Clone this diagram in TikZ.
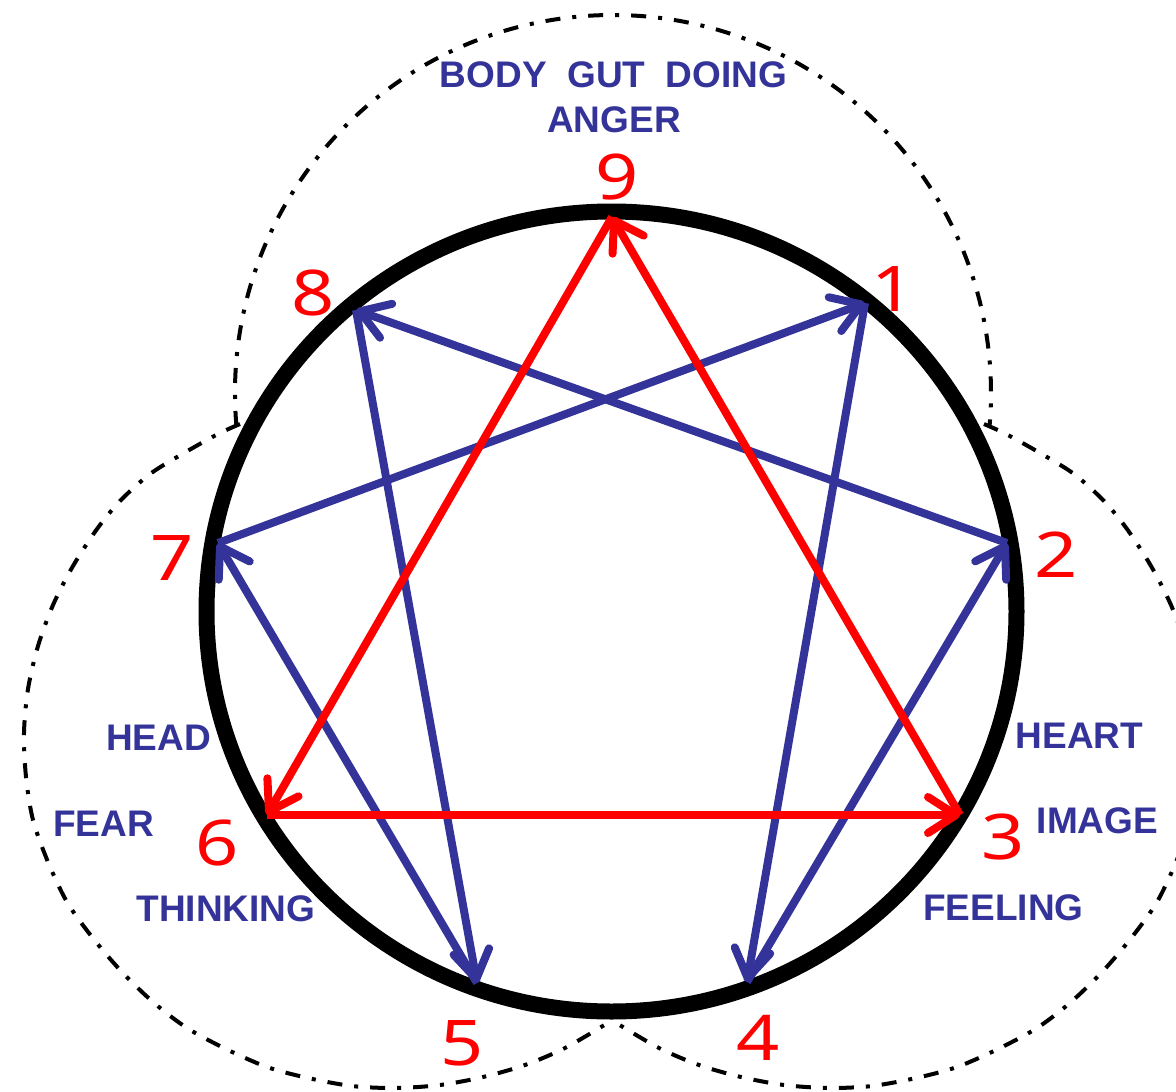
\documentclass[tikz,border=0pt]{standalone}
\usepackage{fontspec}
\setmainfont{Liberation Sans}
\newfontfamily\numfont{Noto Sans}
\usetikzlibrary{arrows.meta}
\definecolor{eblue}{HTML}{333399}
\definecolor{ered}{HTML}{FF0000}
\begin{document}
\begin{tikzpicture}[x=1pt,y=-1pt,
  lbl/.style={text=eblue, font=\fontsize{37pt}{44pt}\selectfont\bfseries, inner sep=0pt, anchor=center},
  num/.style={text=ered, font=\numfont\fontsize{63pt}{70pt}\selectfont, inner sep=0pt, anchor=center},
  lobe/.style={draw=black, line width=4pt, dash pattern=on 15pt off 12pt on 4pt off 12pt},
  conn/.style={line width=8pt, -{Straight Barb[length=28pt,width=36pt,round]}},
  bline/.style={conn, draw=eblue},
  rline/.style={conn, draw=ered}]
\path[use as bounding box] (0,0) rectangle (1176,1092);

% dash-dot lobes
\draw[lobe] (613,393) ++(175:378) arc[start angle=175, end angle=365, radius=378];
\draw[lobe] plot[smooth] coordinates {(240,424) (218,434) (184,453) (150,474) (120,501) (97,529) (73,566) (53,605) (38,646) (28,689) (24,733) (26,777) (33,820) (48,862) (67,902) (92,937) (121,971) (153,1002) (187,1028) (226,1049) (267,1067) (308,1078) (352,1086) (395,1088) (440,1085) (483,1077) (525,1065) (565,1048) (606,1024)};
\begin{scope}[shift={(1224,0)}, xscale=-1]
\draw[lobe] plot[smooth] coordinates {(240,424) (218,434) (184,453) (150,474) (120,501) (97,529) (73,566) (53,605) (38,646) (28,689) (24,733) (26,777) (33,820) (48,862) (67,902) (92,937) (121,971) (153,1002) (187,1028) (226,1049) (267,1067) (308,1078) (352,1086) (395,1088) (440,1085) (483,1077) (525,1065) (565,1048) (606,1024)};
\end{scope}

% main circle
\draw[line width=16pt] (611.5,611.5) ellipse [x radius=405, y radius=400];

% points
\coordinate (p9) at (612,217);
\coordinate (p1) at (865,303);
\coordinate (p2) at (1007,543);
\coordinate (p3) at (960,815);
\coordinate (p4) at (747,982);
\coordinate (p5) at (477,983);
\coordinate (p6) at (267,815);
\coordinate (p7) at (218,543);
\coordinate (p8) at (356,310);

% blue connectors
\draw[bline] (p1) -- (p4);
\draw[bline] (p4) -- (p2);
\draw[bline] (p2) -- (p8);
\draw[bline] (p8) -- (p5);
\draw[bline] (p5) -- (p7);
\draw[bline] (p7) -- (p1);
% red connectors
\draw[rline] (p9) -- (p6);
\draw[rline] (p6) -- (p3);
\draw[rline] (p3) -- (p9);

% numbers
\node[num] (n9) at (617.5,177) {\scalebox{1.2}[1]{9}};
\node[num] (n1) at (893.5,289.5) {\scalebox{1.2}[1]{1}};
\node[num] (n2) at (1056.5,555) {\scalebox{1.2}[1]{2}};
\node[num] (n3) at (1003.5,837.5) {\scalebox{1.2}[1]{3}};
\node[num] (n4) at (758.5,1037.5) {\scalebox{1.2}[1]{4}};
\node[num] (n5) at (462.5,1043.5) {\scalebox{1.2}[1]{5}};
\node[num] (n6) at (217.5,842.5) {\scalebox{1.2}[1]{6}};
\node[num] (n7) at (172,558) {\scalebox{1.2}[1]{7}};
\node[num] (n8) at (313,293) {\scalebox{1.2}[1]{8}};

% labels
\node[lbl] (body) at (613.5,75) {BODY~~GUT~~DOING};
\node[lbl] (anger) at (614,119.5) {ANGER};
\node[lbl] (head) at (158.5,737.5) {HEAD};
\node[lbl] (fear) at (103.5,823.5) {FEAR};
\node[lbl] (thinking) at (226,909) {THINKING};
\node[lbl] (heart) at (1079.5,735.5) {HEART};
\node[lbl] (image) at (1097.5,821) {IMAGE};
\node[lbl] (feeling) at (1003.5,908) {FEELING};
\end{tikzpicture}
\end{document}
